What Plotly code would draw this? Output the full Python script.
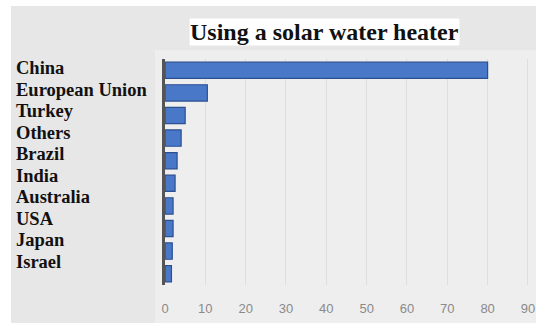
import plotly.graph_objects as go

categories = ["China", "European Union", "Turkey", "Others", "Brazil",
              "India", "Australia", "USA", "Japan", "Israel"]
values = [80, 10.5, 5, 4, 3, 2.5, 2, 2, 1.8, 1.6]
tick_vals = [0, 10, 20, 30, 40, 50, 60, 70, 80, 90]
title_text = "Using a solar water heater"

W, H = 536, 323
ML, MR, MT, MB = 165, 0, 59, 38
PW, PH = W - ML - MR, H - MT - MB


def px_x(p):
    return (p - ML) / PW


def px_y(p):
    return (H - MB - p) / PH


fig = go.Figure()
fig.add_trace(go.Bar(
    x=values, y=categories, orientation="h", width=0.72,
    marker=dict(color="#4a78c9", line=dict(color="#2b4f91", width=1.2)),
    hoverinfo="x+y",
))

for i, c in enumerate(categories):
    fig.add_annotation(
        x=0, xref="paper", xshift=-151, y=c, yref="y", yshift=2 + 1.1 * i,
        text="<b>" + c + "</b>", showarrow=False, xanchor="left", yanchor="middle",
        font=dict(family="Liberation Serif", size=18.5, color="#111111"),
    )

fig.add_annotation(
    x=px_x(324), xref="paper", y=1, yref="paper", yshift=27,
    text="<b>" + title_text + "</b>", showarrow=False, xanchor="center", yanchor="middle",
    font=dict(family="Liberation Serif", size=24, color="#111111"),
    bgcolor="#ffffff", borderpad=0,
)

# background panels
fig.add_shape(type="rect", xref="paper", yref="paper", x0=px_x(155), x1=1.0, y0=px_y(H), y1=px_y(50),
              fillcolor="#eeeeee", line=dict(width=0), layer="below")
fig.add_shape(type="rect", xref="paper", yref="paper", x0=px_x(0), x1=px_x(11), y0=px_y(H), y1=px_y(0),
              fillcolor="#ffffff", line=dict(width=0), layer="below")
fig.add_shape(type="rect", xref="paper", yref="paper", x0=px_x(0), x1=1.0, y0=px_y(6), y1=px_y(0),
              fillcolor="#ffffff", line=dict(width=0), layer="below")

fig.update_layout(
    width=W, height=H,
    margin=dict(l=ML, r=MR, t=MT, b=MB, autoexpand=False),
    paper_bgcolor="#e7e7e7", plot_bgcolor="#f6f6f6",
    showlegend=False, bargap=0.28,
    xaxis=dict(range=[0, 92], tickvals=tick_vals, showgrid=True, gridcolor="#dedede",
               gridwidth=1, zeroline=False, showline=False, automargin=False,
               tickfont=dict(family="Liberation Sans", size=13, color="#8a8a8a"),
               ticklabelstandoff=14),
    yaxis=dict(categoryorder="array", categoryarray=categories,
               range=[len(categories) - 0.5, -0.5],
               showticklabels=False, showgrid=False, zeroline=False, automargin=False,
               showline=True, linecolor="#555555", linewidth=3),
)

fig.write_html("out.html")
